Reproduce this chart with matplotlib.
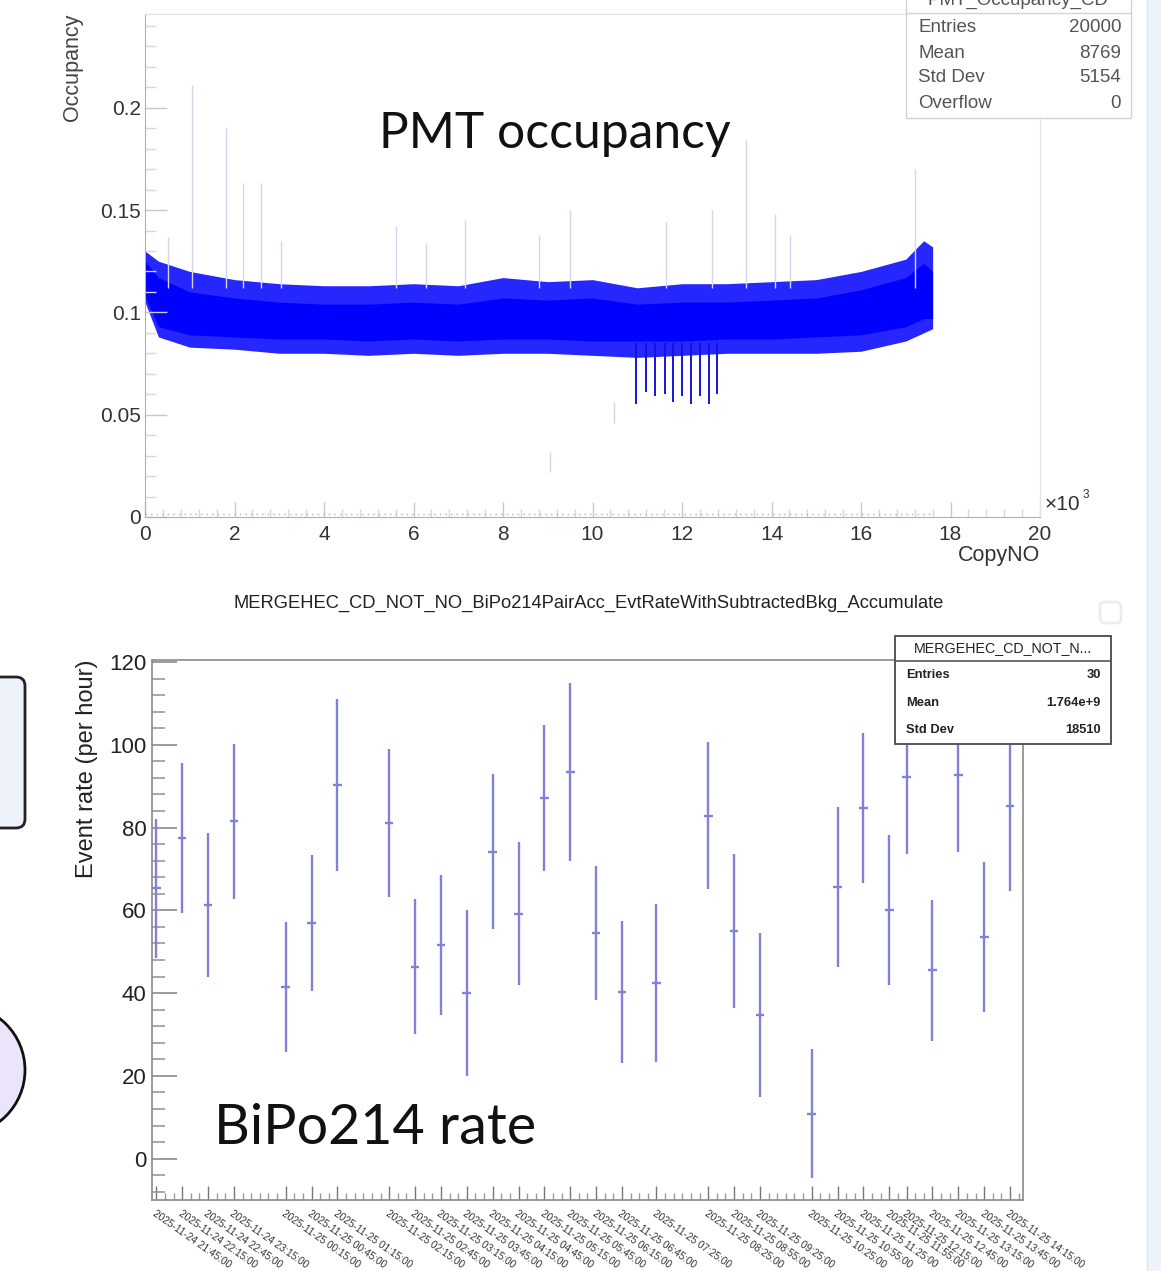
import matplotlib
matplotlib.use("Agg")
import matplotlib.pyplot as plt
import numpy as np
import pandas as pd
from matplotlib.patches import Rectangle, FancyBboxPatch, Circle

# ---------------- data: PMT occupancy (x in units of 10^3 CopyNO) ----------------
occ_x = [0, 0.3, 1, 2, 3, 4, 5, 6, 7, 8, 9, 10, 11, 12, 13, 14, 15, 16, 17, 17.4, 17.6]
occ_outer_hi = [0.130, 0.125, 0.120, 0.116, 0.114, 0.113, 0.113, 0.114, 0.113, 0.117, 0.115,
                0.116, 0.112, 0.114, 0.114, 0.115, 0.116, 0.120, 0.126, 0.135, 0.132]
occ_outer_lo = [0.105, 0.088, 0.083, 0.082, 0.080, 0.080, 0.079, 0.080, 0.079, 0.080, 0.080,
                0.079, 0.078, 0.079, 0.080, 0.080, 0.080, 0.081, 0.086, 0.090, 0.092]
occ_core_hi = [0.125, 0.117, 0.110, 0.107, 0.105, 0.104, 0.104, 0.105, 0.104, 0.107, 0.106,
               0.107, 0.104, 0.105, 0.105, 0.106, 0.107, 0.111, 0.117, 0.124, 0.120]
occ_core_lo = [0.108, 0.093, 0.089, 0.088, 0.087, 0.087, 0.086, 0.087, 0.086, 0.087, 0.087,
               0.086, 0.086, 0.086, 0.087, 0.087, 0.088, 0.089, 0.093, 0.097, 0.097]

# single hot channels (faint spikes above the band)
spike_x = [0.52, 1.05, 1.8, 2.2, 2.6, 3.04, 5.6, 6.28, 7.16, 8.8, 9.5, 11.65, 12.66, 13.44,
           14.08, 14.41, 17.2]
spike_top = [0.137, 0.211, 0.19, 0.163, 0.163, 0.135, 0.142, 0.134, 0.145, 0.138, 0.150,
             0.144, 0.150, 0.184, 0.148, 0.138, 0.170]

# low channels around 11-13k
dip_x = [10.97, 11.19, 11.40, 11.61, 11.79, 12.01, 12.20, 12.40, 12.60, 12.79]
dip_bottom = [0.055, 0.061, 0.059, 0.060, 0.056, 0.059, 0.055, 0.059, 0.055, 0.060]
faint_dip_x = [9.04, 10.47]
faint_dip_bottom = [0.022, 0.046]

occ_stats = [("Entries", "20000"), ("Mean", "8769"), ("Std Dev", "5154"), ("Overflow", "0")]

# ---------------- data: BiPo214 event rate ----------------
time_labels = [
    "2025-11-24 21:45:00", "2025-11-24 22:15:00", "2025-11-24 22:45:00", "2025-11-24 23:15:00",
    "2025-11-25 00:15:00", "2025-11-25 00:45:00", "2025-11-25 01:15:00",
    "2025-11-25 02:15:00", "2025-11-25 02:45:00", "2025-11-25 03:15:00", "2025-11-25 03:45:00",
    "2025-11-25 04:15:00", "2025-11-25 04:45:00", "2025-11-25 05:15:00", "2025-11-25 05:45:00",
    "2025-11-25 06:15:00", "2025-11-25 06:45:00", "2025-11-25 07:25:00",
    "2025-11-25 08:25:00", "2025-11-25 08:55:00", "2025-11-25 09:25:00",
    "2025-11-25 10:25:00", "2025-11-25 10:55:00", "2025-11-25 11:25:00", "2025-11-25 11:55:00",
    "2025-11-25 12:15:00", "2025-11-25 12:45:00", "2025-11-25 13:15:00", "2025-11-25 13:45:00",
    "2025-11-25 14:15:00",
]
rate = [65.3, 77.5, 61.3, 81.5, 41.5, 57.0, 90.3, 81.2, 46.4, 51.6, 40.0, 74.2, 59.2, 87.2,
        93.4, 54.5, 40.3, 42.5, 82.9, 55.0, 34.7, 10.8, 65.7, 84.7, 60.1, 92.3, 45.5, 92.6,
        53.5, 85.2]
rate_err = [16.8, 18.1, 17.3, 18.8, 15.8, 16.4, 20.8, 17.9, 16.3, 17.0, 20.0, 18.8, 17.2, 17.7,
            21.5, 16.2, 17.2, 19.1, 17.8, 18.7, 19.8, 15.6, 19.3, 18.1, 18.1, 18.6, 17.1, 18.6,
            18.1, 20.6]
rate_stats = [("Entries", "30"), ("Mean", "1.764e+9"), ("Std Dev", "18510")]

W, H = 1161, 1271
plt.rcParams['font.family'] = ['Liberation Sans', 'DejaVu Sans']
fig = plt.figure(figsize=(W / 100, H / 100), dpi=100)
fig.patch.set_facecolor('white')


def frac(left, top, right, bottom):
    return [left / W, 1 - bottom / H, (right - left) / W, (bottom - top) / H]


# ================= top panel =================
ax1 = fig.add_axes(frac(145, 14, 1040, 517))
ax1.fill_between(occ_x, occ_outer_lo, occ_outer_hi, color='#0000ff', alpha=0.85, lw=0)
ax1.fill_between(occ_x, occ_core_lo, occ_core_hi, color='#0000ff', lw=0)
ax1.vlines(spike_x, 0.112, spike_top, color='#d3d6ec', lw=1.0, zorder=1)
ax1.vlines(dip_x, 0.085, dip_bottom, color='#1414d8', lw=1.4)
ax1.vlines(faint_dip_x, np.array(faint_dip_bottom) + 0.01, faint_dip_bottom, color='#d3d6e6', lw=1.0)
ax1.hlines(0.0015, 0, occ_x[-1], color='#c9a9b0', lw=1.0, linestyles=(0, (1, 3)))
ax1.set_xlim(0, 20)
ax1.set_ylim(0, 0.2458)
ax1.set_xticks(np.arange(0, 21, 2))
ax1.set_xticks(np.arange(0, 20.01, 0.4), minor=True)
ax1.set_yticks([0, 0.05, 0.1, 0.15, 0.2])
ax1.set_yticklabels(['0', '0.05', '0.1', '0.15', '0.2'])
ax1.set_yticks(np.arange(0, 0.245, 0.01), minor=True)
ax1.tick_params(axis='y', which='major', direction='in', length=16, width=1, color='#c8c8c8',
                labelsize=15, labelcolor='#333333', pad=3)
ax1.tick_params(axis='y', which='minor', direction='in', length=8, width=1, color='#d8d8d8')
ax1.tick_params(axis='x', which='major', direction='in', length=11, width=1, color='#c8c8c8',
                labelsize=15, labelcolor='#333333', pad=6)
ax1.tick_params(axis='x', which='minor', direction='in', length=6, width=1, color='#d8d8d8')
for side in ['top', 'right']:
    ax1.spines[side].set_color('#e4e4e4')
for side in ['left', 'bottom']:
    ax1.spines[side].set_color('#b0b0b0')

# ================= bottom panel =================
t = pd.to_datetime(time_labels)
t_min = ((t - t[0]).total_seconds() / 60.0).to_numpy()

ax2 = fig.add_axes(frac(152, 660, 1023, 1200))
ax2.errorbar(t_min, rate, yerr=rate_err, xerr=5, fmt='none', ecolor='#8181d8', elinewidth=1.7,
             capsize=0)
ax2.set_xlim(-5, 1005)
ax2.set_ylim(-10, 120.5)
ax2.set_yticks(np.arange(0, 121, 20))
ax2.set_yticks(np.arange(-8, 121, 4), minor=True)
ax2.set_xticks(t_min)
ax2.set_xticklabels(time_labels, rotation=-35, ha='left', va='top', rotation_mode='anchor',
                    fontsize=7.3, color='#333333')
ax2.set_xticks(np.arange(0, 1001, 10), minor=True)
ax2.tick_params(axis='y', which='major', direction='in', length=18, width=1.2, color='#8a8a8a',
                labelsize=16, labelcolor='#222222', pad=4)
ax2.tick_params(axis='y', which='minor', direction='in', length=9, width=1.2, color='#9a9a9a')
ax2.tick_params(axis='x', which='major', direction='in', length=10, width=1, color='#777777', pad=6)
ax2.tick_params(axis='x', which='minor', direction='in', length=5, width=1, color='#999999')
for side in ax2.spines.values():
    side.set_color('#8a8a8a')
    side.set_linewidth(1.2)

# ================= page overlay (pixel coordinates) =================
ov = fig.add_axes([0, 0, 1, 1], zorder=10)
ov.set_xlim(0, W)
ov.set_ylim(H, 0)
ov.axis('off')
ov.patch.set_alpha(0)

# side panel and cut-off slide shapes
ov.add_patch(Rectangle((1147, 0), 20, H, facecolor='#eef3fa', edgecolor='none'))
ov.plot([1147, 1147], [0, H], color='#dde5ef', lw=1)
ov.add_patch(FancyBboxPatch((-30, 677), 55, 151, boxstyle='round,pad=0,rounding_size=9',
                            facecolor='#eef2fb', edgecolor='#222222', lw=2))
ov.add_patch(Circle((-40, 1070), 65, facecolor='#ebe4fb', edgecolor='#111111', lw=2))
ov.add_patch(FancyBboxPatch((1100, 602), 21, 21, boxstyle='round,pad=0,rounding_size=5',
                            facecolor='none', edgecolor='#ececec', lw=2))

# axis titles
ov.text(72, 14, 'Occupancy', rotation=90, ha='center', va='top', fontsize=15.5, color='#444444')
ov.text(1040, 556, 'CopyNO', ha='right', va='center', fontsize=15.5, color='#333333')
ov.text(1045, 505, '\u00d710', ha='left', va='center', fontsize=15, color='#333333')
ov.text(1083, 495, '3', ha='left', va='center', fontsize=8.5, color='#333333')
ov.text(87, 660, 'Event rate (per hour)', rotation=90, ha='center', va='top', fontsize=17,
        color='#222222')
ov.text(589, 603, 'MERGEHEC_CD_NOT_NO_BiPo214PairAcc_EvtRateWithSubtractedBkg_Accumulate',
        ha='center', va='center', fontsize=13.2, color='#222222')

# stats box, top panel (title runs off the top edge as in the screenshot)
ov.add_patch(Rectangle((906, -20), 225, 138, facecolor='white', edgecolor='#d2d2d2', lw=1))
ov.plot([906, 1131], [13, 13], color='#d2d2d2', lw=1)
ov.text(1018, 0, 'PMT_Occupancy_CD', ha='center', va='center', fontsize=13.5, color='#555555')
for i, (k, v) in enumerate(occ_stats):
    y = 28 + 25 * i
    ov.text(918, y, k, ha='left', va='center', fontsize=13.5, color='#555555')
    ov.text(1121, y, v, ha='right', va='center', fontsize=13.5, color='#555555')

# stats box, bottom panel
ov.add_patch(Rectangle((895, 636), 216, 108, facecolor='white', edgecolor='#555555', lw=1.4))
ov.plot([895, 1111], [661, 661], color='#555555', lw=1.2)
ov.text(1003, 648, 'MERGEHEC_CD_NOT_N...', ha='center', va='center', fontsize=10.3,
        color='#222222')
for i, (k, v) in enumerate(rate_stats):
    y = 675 + 27.5 * i
    ov.text(906, y, k, ha='left', va='center', fontsize=9.3, color='#222222', fontweight='bold')
    ov.text(1101, y, v, ha='right', va='center', fontsize=9.3, color='#222222', fontweight='bold')

# slide annotations
ov.text(555, 134, 'PMT occupancy', ha='center', va='center', fontsize=35.8, family='Lato',
        color='#111111')
ov.text(375, 1129, 'BiPo214 rate', ha='center', va='center', fontsize=40, family='Lato',
        color='#111111')

fig.savefig('out.png', dpi=100, facecolor='white')
